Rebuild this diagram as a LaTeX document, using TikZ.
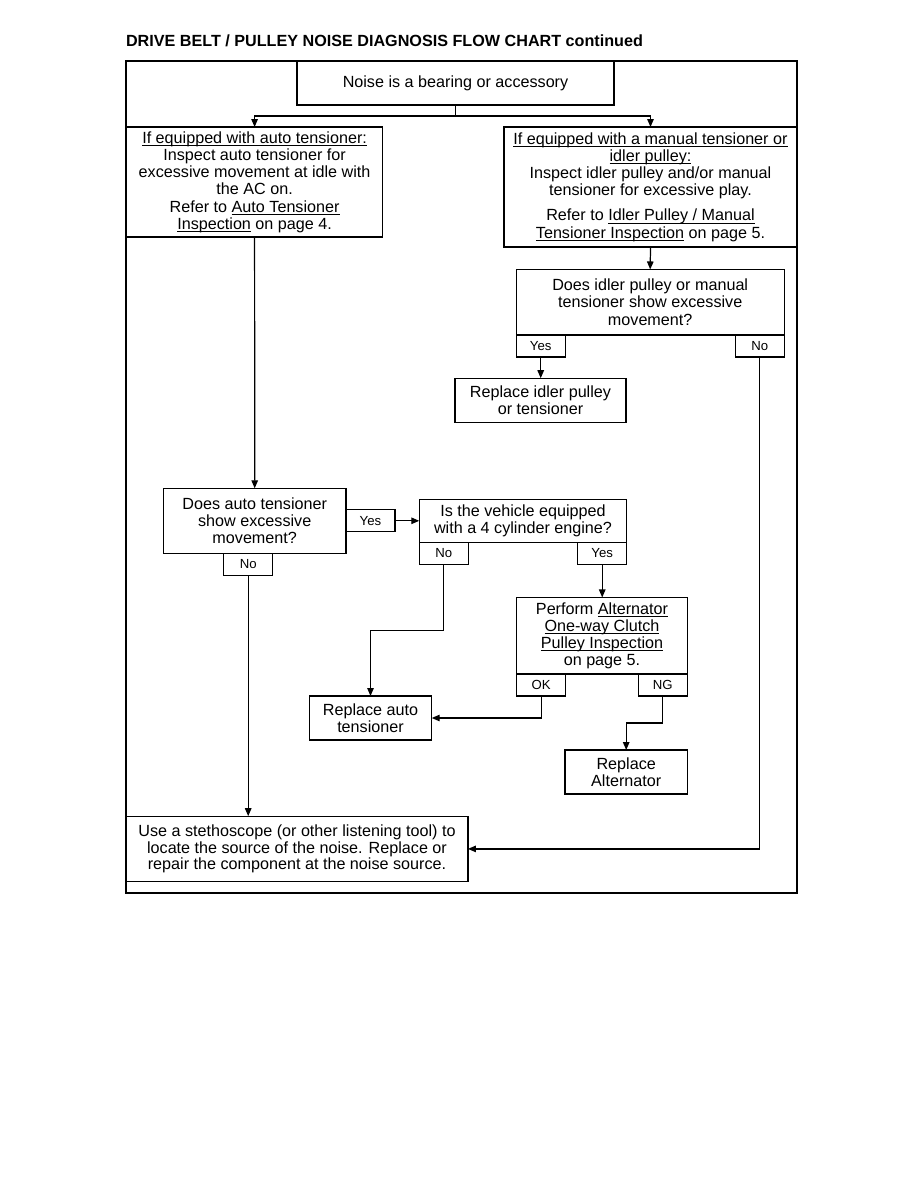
\documentclass[tikz,border=0pt]{standalone}
\usepackage{fontspec}
\setmainfont{Liberation Sans}
\usetikzlibrary{positioning, arrows.meta, calc}

% underline that does not push the lines apart
\newcommand{\uln}[1]{\setbox0\hbox{#1}\rlap{\smash{\rule[-1.4pt]{\wd0}{0.45pt}}}\box0\relax}

\begin{document}
\begin{tikzpicture}[
    x=0.02cm, y=-0.02cm,
    every node/.style={inner sep=0pt, outer sep=0pt},
    box/.style={rectangle, draw=black, line width=0.7pt, align=center, font=\fontsize{9.2}{9.8}\selectfont},
    tab/.style={rectangle, draw=black, line width=0.7pt, minimum width=0.98cm, minimum height=0.44cm, font=\fontsize{7.5}{8}\selectfont},
    flow/.style={-{Triangle[length=1.6mm, width=1.3mm]}, line width=0.7pt, draw=black},
    link/.style={line width=0.7pt, draw=black}
]
\useasboundingbox (0,0) rectangle (918,1188);

% Title and frame
\node[anchor=west, font=\bfseries\fontsize{9.2}{10}\selectfont] (title) at (126,41) {DRIVE BELT / PULLEY NOISE DIAGNOSIS FLOW CHART continued};
\draw[line width=0.8pt] (126,61) rectangle (797,893);

% Boxes
\node[box, minimum width=6.34cm, minimum height=0.88cm] (noise) at (455.5,83) {Noise is a bearing or accessory};
\node[box, minimum width=5.12cm, minimum height=2.2cm] (autoinsp) at (254.6,182) {\uln{If equipped with auto tensioner:}\\Inspect auto tensioner for\\excessive movement at idle with\\the AC on.\\Refer to \uln{Auto Tensioner}\\\uln{Inspection} on page 4.};
\node[box, minimum width=5.86cm, minimum height=2.4cm] (maninsp) at (650.5,187) {\uln{If equipped with a manual tensioner or}\\\uln{idler pulley:}\\Inspect idler pulley and/or manual\\tensioner for excessive play.\\[4.5pt]Refer to \uln{Idler Pulley / Manual}\\\uln{Tensioner Inspection} on page 5.};
\node[box, minimum width=5.36cm, minimum height=1.31cm] (idlerq) at (650.2,302.2) {Does idler pulley or manual\\tensioner show excessive\\movement?};
\node[box, minimum width=3.42cm, minimum height=0.88cm] (idlerrep) at (540.5,400.2) {Replace idler pulley\\or tensioner};
\node[box, minimum width=3.65cm, minimum height=1.3cm] (autoq) at (254.7,520.8) {Does auto tensioner\\show excessive\\movement?};
\node[box, minimum width=4.15cm, minimum height=0.86cm] (cylq) at (523,520.8) {Is the vehicle equipped\\with a 4 cylinder engine?};
\node[box, minimum width=3.41cm, minimum height=1.53cm] (clutch) at (602,635.7) {Perform \uln{Alternator}\\\uln{One-way Clutch}\\\uln{Pulley Inspection}\\on page 5.};
\node[box, minimum width=2.45cm, minimum height=0.88cm] (autorep) at (370.5,718) {Replace auto\\tensioner};
\node[box, minimum width=2.45cm, minimum height=0.88cm] (altrep) at (626.2,772) {Replace\\Alternator};
\node[box, minimum width=6.84cm, minimum height=1.31cm, font=\fontsize{9.2}{8.5}\selectfont] (listen) at (297,848.9) {Use a stethoscope (or other listening tool) to\\locate the source of the noise. Replace or\\repair the component at the noise source.};

% Tabs
\node[tab, below right=0pt and 0pt of idlerq.south west] (idlerqyes) {Yes};
\node[tab, below left=0pt and 0pt of idlerq.south east] (idlerqno) {No};
\node[tab, right=0pt of autoq.east] (autoqyes) {Yes};
\node[tab, below=0pt of autoq.south, xshift=-0.13cm] (autoqno) {No};
\node[tab, below right=0pt and 0pt of cylq.south west] (cylqno) {No};
\node[tab, below left=0pt and 0pt of cylq.south east] (cylqyes) {Yes};
\node[tab, below right=0pt and 0pt of clutch.south west] (clutchok) {OK};
\node[tab, below left=0pt and 0pt of clutch.south east] (clutchng) {NG};

% Connectors
\path (noise.south) ++(0,11) coordinate (split);
\draw[link] (noise.south) -- (split);
\draw[flow] (split) -| (autoinsp.north);
\draw[flow] (split) -| (maninsp.north);
\draw[flow] (autoinsp.south) -- (autoq.north);
\draw[flow] (maninsp.south) -- (idlerq.north);
\draw[flow] (idlerqyes.south) -- (idlerqyes.south |- idlerrep.north);
\draw[flow] (idlerqno.south) |- (listen.east);
\draw[flow] (autoqyes.east) -- (autoqyes.east -| cylq.west);
\draw[flow] (autoqno.south) -- (autoqno.south |- listen.north);
\draw[flow] (cylqno.south) -- ++(0,66) -| (autorep.north);
\draw[flow] (cylqyes.south) -- (cylqyes.south |- clutch.north);
\draw[flow] (clutchok.south) |- (autorep.east);
\draw[flow] (clutchng.south) -- ++(0,27) -| (altrep.north);

\end{tikzpicture}
\end{document}
